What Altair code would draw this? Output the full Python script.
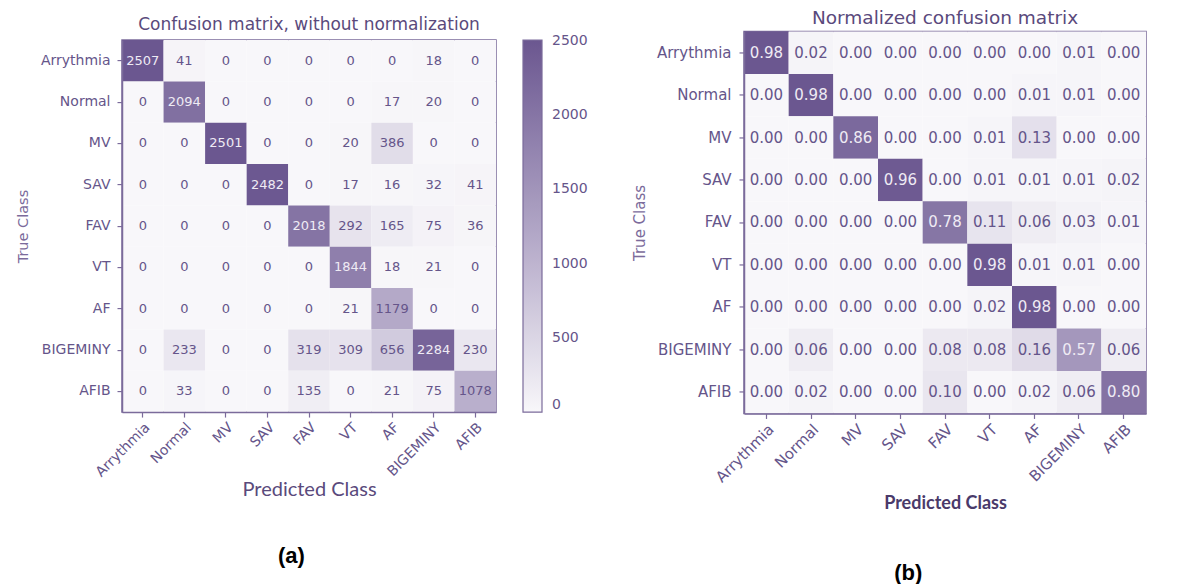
import altair as alt
import pandas as pd

classes = ["Arrythmia", "Normal", "MV", "SAV", "FAV", "VT", "AF", "BIGEMINY", "AFIB"]

# (a) counts, one list per true class
cnt_arrythmia = [2507, 41, 0, 0, 0, 0, 0, 18, 0]
cnt_normal = [0, 2094, 0, 0, 0, 0, 17, 20, 0]
cnt_mv = [0, 0, 2501, 0, 0, 20, 386, 0, 0]
cnt_sav = [0, 0, 0, 2482, 0, 17, 16, 32, 41]
cnt_fav = [0, 0, 0, 0, 2018, 292, 165, 75, 36]
cnt_vt = [0, 0, 0, 0, 0, 1844, 18, 21, 0]
cnt_af = [0, 0, 0, 0, 0, 21, 1179, 0, 0]
cnt_bigeminy = [0, 233, 0, 0, 319, 309, 656, 2284, 230]
cnt_afib = [0, 33, 0, 0, 135, 0, 21, 75, 1078]

# (b) normalized, one list per true class
nrm_arrythmia = [0.98, 0.02, 0.00, 0.00, 0.00, 0.00, 0.00, 0.01, 0.00]
nrm_normal = [0.00, 0.98, 0.00, 0.00, 0.00, 0.00, 0.01, 0.01, 0.00]
nrm_mv = [0.00, 0.00, 0.86, 0.00, 0.00, 0.01, 0.13, 0.00, 0.00]
nrm_sav = [0.00, 0.00, 0.00, 0.96, 0.00, 0.01, 0.01, 0.01, 0.02]
nrm_fav = [0.00, 0.00, 0.00, 0.00, 0.78, 0.11, 0.06, 0.03, 0.01]
nrm_vt = [0.00, 0.00, 0.00, 0.00, 0.00, 0.98, 0.01, 0.01, 0.00]
nrm_af = [0.00, 0.00, 0.00, 0.00, 0.00, 0.02, 0.98, 0.00, 0.00]
nrm_bigeminy = [0.00, 0.06, 0.00, 0.00, 0.08, 0.08, 0.16, 0.57, 0.06]
nrm_afib = [0.00, 0.02, 0.00, 0.00, 0.10, 0.00, 0.02, 0.06, 0.80]

colorbar_ticks = [0, 500, 1000, 1500, 2000, 2500]

count_rows = [cnt_arrythmia, cnt_normal, cnt_mv, cnt_sav, cnt_fav,
              cnt_vt, cnt_af, cnt_bigeminy, cnt_afib]
norm_rows = [nrm_arrythmia, nrm_normal, nrm_mv, nrm_sav, nrm_fav,
             nrm_vt, nrm_af, nrm_bigeminy, nrm_afib]


def to_df(rows):
    recs = []
    for i, t in enumerate(classes):
        for j, p in enumerate(classes):
            recs.append({"true": t, "pred": p, "value": rows[i][j]})
    return pd.DataFrame(recs)


LOW = "#f8f7fa"
HIGH = "#6b5790"
AXIS_C = "#7b6b9b"
LABEL_C = "#65558a"
TITLE_C = "#5a4a7c"
LIGHT_TXT = "#efebf4"


def panel(df, fmt, vmax, thresh, w, h, title, label_size, num_size,
          ylabel_pad, xtitle_font, xtitle_size, xtitle_weight, xtitle_pad,
          xtitle_color, ytitle_size, ytitle_pad, legend):
    x = alt.X("pred:N", sort=classes, title="Predicted Class",
              scale=alt.Scale(paddingInner=0, paddingOuter=0),
              axis=alt.Axis(labelAngle=315, labelAlign="right", labelBaseline="top",
                            labelFontSize=label_size, labelPadding=3,
                            titleFont=xtitle_font, titleFontSize=xtitle_size,
                            titleFontWeight=xtitle_weight, titlePadding=xtitle_pad,
                            titleColor=xtitle_color))
    y = alt.Y("true:N", sort=classes, title="True Class",
              scale=alt.Scale(paddingInner=0, paddingOuter=0),
              axis=alt.Axis(labelFontSize=label_size, labelPadding=ylabel_pad,
                            titleFont="DejaVu Sans", titleFontSize=ytitle_size,
                            titleFontWeight="normal", titlePadding=ytitle_pad,
                            titleColor=AXIS_C))
    base = alt.Chart(df).encode(x=x, y=y)
    rect = base.mark_rect().encode(
        color=alt.Color("value:Q",
                        scale=alt.Scale(domain=[0, vmax], range=[LOW, HIGH]),
                        legend=legend))
    text = base.mark_text(font="DejaVu Sans", fontSize=num_size).encode(
        text=alt.Text("value:Q", format=fmt),
        color=alt.condition(alt.datum.value > thresh,
                            alt.value(LIGHT_TXT), alt.value(LABEL_C)))
    return alt.layer(rect, text).properties(width=w, height=h, title=title)


legend_a = alt.Legend(title=None, values=colorbar_ticks, format="d",
                      gradientLength=372, gradientThickness=19,
                      gradientStrokeColor=AXIS_C, gradientStrokeWidth=1.2,
                      labelFontSize=14, labelColor=LABEL_C, labelFont="DejaVu Sans",
                      labelOffset=10, labelOverlap=False, offset=26, padding=0)

title_a = alt.TitleParams("Confusion matrix, without normalization",
                          fontSize=17, font="DejaVu Sans", fontWeight="normal",
                          color=TITLE_C, anchor="middle", frame="group", offset=6)
title_b = alt.TitleParams("Normalized confusion matrix", fontSize=18.5,
                          font="DejaVu Sans", fontWeight="normal", color=TITLE_C,
                          anchor="middle", frame="group", offset=4)

panel_a = panel(to_df(count_rows), "d", 2507, 1253, 374, 372, title_a, 14, 13, 7,
                "Lato", 20, "normal", 0, "#5a4a7c", 14.5, 10, legend_a)
panel_b = panel(to_df(norm_rows), ".2f", 0.98, 0.49, 402, 382, title_b, 15, 15, 8,
                "Lato", 18, "bold", 10, "#4a3a6a", 15, 9, None)

col_a = alt.vconcat(panel_a, title=alt.TitleParams(
    ["(a)", ""], lineHeight=8, orient="bottom", fontSize=22, font="Liberation Sans",
    fontWeight="bold", color="black", anchor="middle", offset=46, dx=-10))
col_b = alt.vconcat(panel_b, title=alt.TitleParams(
    "(b)", orient="bottom", fontSize=22, font="Liberation Sans", fontWeight="bold",
    color="black", anchor="middle", offset=49, dx=19))

chart = alt.hconcat(col_a, col_b, spacing=43, center=True).resolve_scale(
    color="independent", x="independent", y="independent"
).configure(
    padding={"left": 6, "top": 0, "right": 0, "bottom": 0}
).configure_view(
    stroke=AXIS_C, strokeWidth=1.5
).configure_axis(
    domainColor=AXIS_C, tickColor=AXIS_C, domainWidth=1.5, tickWidth=1.2,
    tickSize=5, labelColor=LABEL_C, labelFont="DejaVu Sans", grid=False
)

chart.save("out.html", embed_options={"renderer": "svg", "actions": False})
